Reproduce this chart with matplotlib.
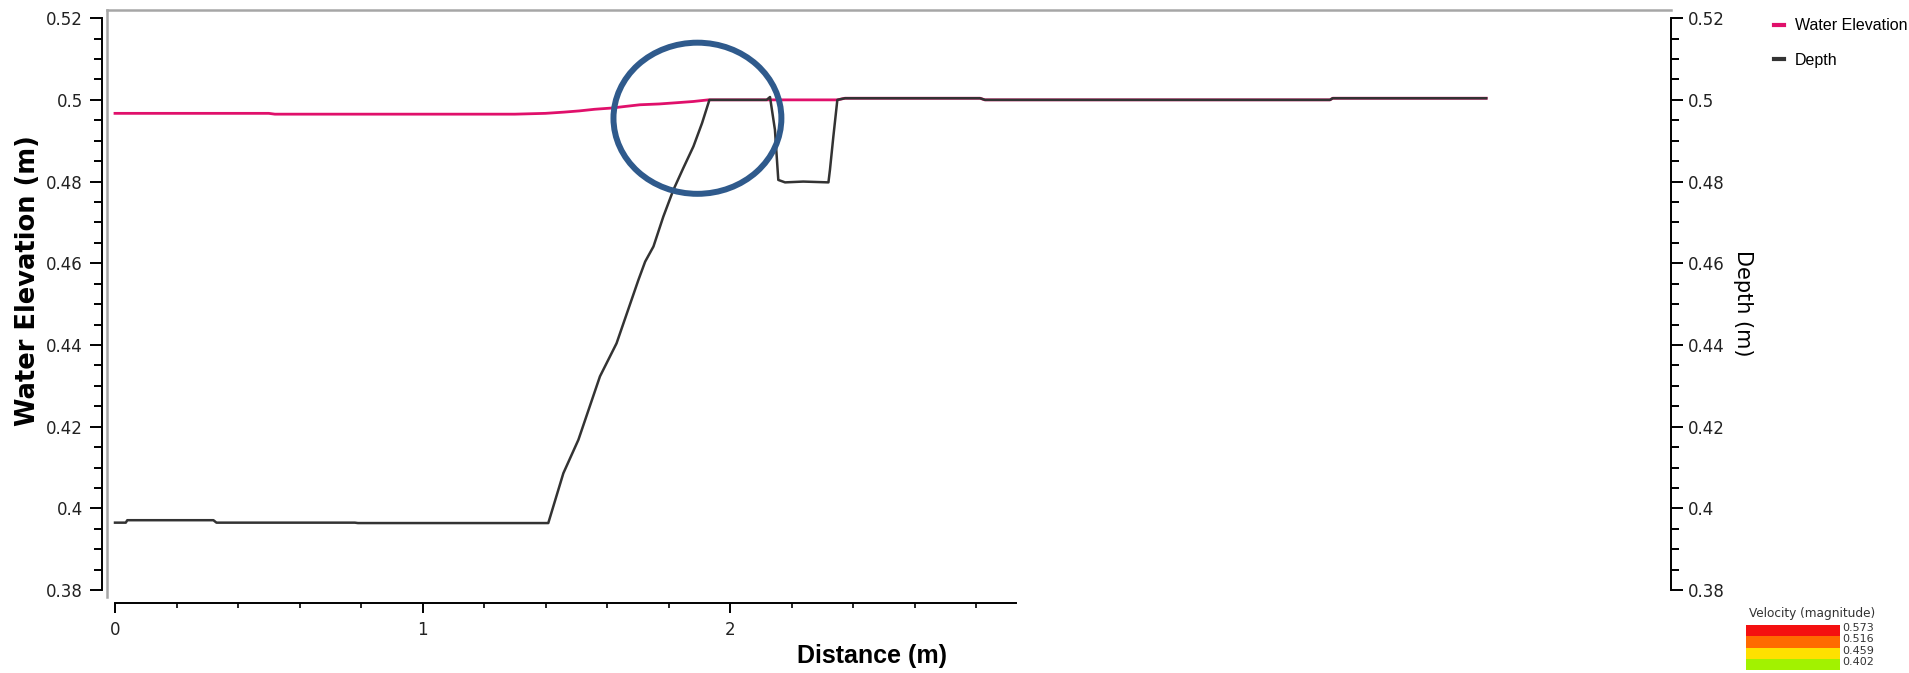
import numpy as np
import matplotlib
matplotlib.use('Agg')
import matplotlib.pyplot as plt
from matplotlib.patches import Ellipse
from matplotlib.lines import Line2D
from matplotlib.ticker import FuncFormatter

# water elevation profile (m)
elev_x = [0, 0.50, 0.52, 1.30, 1.40, 1.46, 1.51, 1.56, 1.615, 1.66, 1.707, 1.77,
          1.826, 1.88, 1.929, 2.349, 2.374, 2.813, 2.829, 3.951, 3.96, 4.459]
elev_y = [0.4967, 0.4967, 0.4965, 0.4965, 0.4967, 0.4970, 0.4973, 0.4977, 0.4980, 0.4984,
          0.4988, 0.4990, 0.4993, 0.4996, 0.5000, 0.5000, 0.5004, 0.5004, 0.5000, 0.5000,
          0.5004, 0.5004]

# depth profile (m)
depth_x = [0, 0.035, 0.04, 0.32, 0.33, 0.78, 0.79, 1.409, 1.458, 1.507, 1.577, 1.631,
           1.702, 1.724, 1.751, 1.783, 1.816, 1.848, 1.881, 1.909, 1.933, 2.119, 2.13,
           2.146, 2.157, 2.179, 2.238, 2.320, 2.325, 2.336, 2.349, 2.374, 2.813, 2.829,
           3.951, 3.96, 4.459]
depth_y = [0.3965, 0.3965, 0.3971, 0.3971, 0.3965, 0.3965, 0.3964, 0.3964, 0.4086, 0.4168,
           0.4323, 0.4404, 0.4559, 0.4604, 0.4641, 0.4714, 0.4780, 0.4833, 0.4886, 0.4943,
           0.5000, 0.5000, 0.5007, 0.4927, 0.4804, 0.4798, 0.4800, 0.4798, 0.4829, 0.4910,
           0.5000, 0.5004, 0.5004, 0.5000, 0.5000, 0.5004, 0.5004]

# velocity legend
vel_levels = [0.402, 0.459, 0.516, 0.573]
vel_colors = ['#a2f200', '#ffe000', '#ff6a00', '#f41010']

W, H = 1909, 673
fig = plt.figure(figsize=(W / 100, H / 100), dpi=100)
ax = fig.add_axes([106.7 / W, 1 - 597 / H, (1670.7 - 106.7) / W, (597 - 10) / H])
ax.set_xlim(-0.027, 5.059)
ax.set_ylim(0.3783, 0.5220)

pink = '#e0106b'
dark = '#333333'
ax.plot(elev_x, elev_y, color=pink, lw=2.0, zorder=3)
ax.plot(depth_x, depth_y, color=dark, lw=1.8, zorder=4)

ax.add_patch(Ellipse((1.894, 0.4955), 0.546, 0.037, fill=False,
                     ec='#2f5a8c', lw=4.3, zorder=5))

fmt = FuncFormatter(lambda v, p: '%g' % round(v, 3))
yt = np.arange(0.38, 0.5201, 0.02)
ym = np.arange(0.38, 0.5201, 0.005)

# left axis
ax.spines['top'].set_color('#a6a6a6')
ax.spines['top'].set_linewidth(1.8)
ax.spines['right'].set_visible(False)
ax.spines['left'].set_position(('outward', 3.6))
ax.spines['left'].set_bounds(0.38, 0.52)
ax.spines['left'].set_linewidth(1.4)
ax.spines['bottom'].set_position(('outward', 4.3))
ax.spines['bottom'].set_bounds(0, 2.93)
ax.spines['bottom'].set_linewidth(1.4)
ax.plot([0, 0], [0, 1], transform=ax.transAxes, color='#a6a6a6', lw=1.8, clip_on=False)

ax.set_yticks(yt)
ax.set_yticks(ym, minor=True)
ax.yaxis.set_major_formatter(fmt)
ax.set_xticks([0, 1, 2])
ax.set_xticks(np.arange(0, 2.81, 0.2), minor=True)
ax.tick_params(axis='y', which='major', direction='out', length=8.6, width=1.4,
               labelsize=12, labelcolor='#222222', pad=5)
ax.tick_params(axis='y', which='minor', direction='out', length=5.8, width=1.4)
ax.tick_params(axis='x', which='major', direction='out', length=7, width=1.4,
               labelsize=12, labelcolor='#222222', pad=6)
ax.tick_params(axis='x', which='minor', direction='out', length=3.6, width=1.2)

fig.text(28 / W, ax.transData.transform((0, 0.4557))[1] / H, 'Water Elevation (m)',
         fontsize=18.5, fontweight='bold', rotation=90, ha='center', va='center')
fig.text(872 / W, 1 - 656 / H, 'Distance (m)', fontsize=18, fontweight='bold',
         family='Liberation Sans', ha='center', va='center')

# right axis
ax2 = ax.twinx()
ax2.set_ylim(ax.get_ylim())
for s in ['top', 'left', 'bottom']:
    ax2.spines[s].set_visible(False)
ax2.spines['right'].set_bounds(0.38, 0.52)
ax2.spines['right'].set_linewidth(1.4)
ax2.set_yticks(yt)
ax2.set_yticks(ym, minor=True)
ax2.yaxis.set_major_formatter(fmt)
ax2.tick_params(axis='y', which='major', direction='out', length=8.6, width=1.4,
                labelsize=12, labelcolor='#222222', pad=4)
ax2.tick_params(axis='y', which='minor', direction='out', length=5.8, width=1.4)
ax2.set_ylabel('Depth (m)', fontsize=15, rotation=270, labelpad=20)

# series legend
handles = [Line2D([], [], color=pink, lw=3), Line2D([], [], color=dark, lw=3)]
fig.legend(handles, ['Water Elevation', 'Depth'], loc='upper left',
           bbox_to_anchor=(1760 / W, 1 - 4 / H), frameon=False, handlelength=0.6,
           handletextpad=0.7, labelspacing=1.2, prop={'family': 'Liberation Sans', 'size': 11.5})

# velocity colour key
cb = fig.add_axes([1746 / W, 1 - 670 / H, 94 / W, 45 / H])
cb.barh(np.arange(len(vel_levels)) + 0.5, 1, height=1, color=vel_colors)
cb.set_xlim(0, 1)
cb.set_ylim(0, len(vel_levels))
cb.axis('off')
for i, v in enumerate(vel_levels):
    cb.text(1.02, i + 0.72, '%.3f' % v, transform=cb.transData, fontsize=8,
            va='center', ha='left', color='#333333')
cb.text(0.70, 1.12, 'Velocity (magnitude)', transform=cb.transAxes, fontsize=8.7,
        ha='center', va='bottom', color='#333333')

fig.savefig('out.png', dpi=100)
